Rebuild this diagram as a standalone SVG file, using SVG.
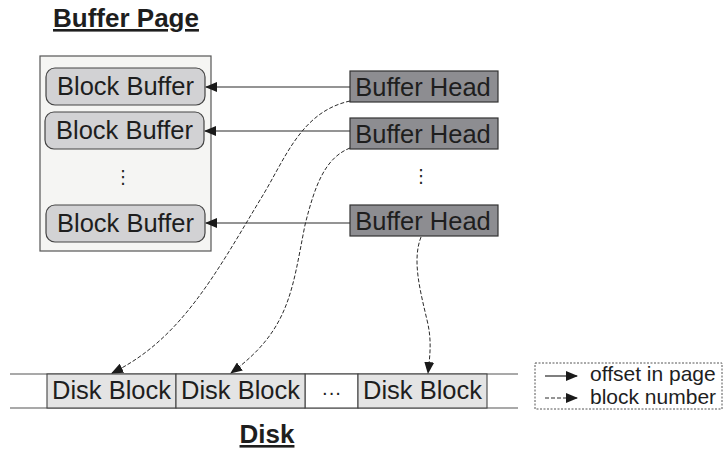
<svg xmlns="http://www.w3.org/2000/svg" width="727" height="452" viewBox="0 0 727 452">
  <style>
    text { font-family: "Liberation Sans", Arial, sans-serif; fill: #1e1e1e; }
    .title { font-size: 26px; font-weight: bold; text-decoration: underline; text-anchor: middle; }
    .lbl { font-size: 25.5px; text-anchor: middle; }
    .leg { font-size: 21px; }
    .page { fill: #f5f5f3; stroke: #555; stroke-width: 1.2; }
    .bb { fill: #d2d2d4; stroke: #444; stroke-width: 1.2; }
    .bh { fill: #8d8d91; stroke: #333; stroke-width: 1.2; }
    .db { fill: #e4e4e4; stroke: #444; stroke-width: 1.1; }
    .solid { fill: none; stroke: #2a2a2a; stroke-width: 1.2; marker-end: url(#ah); }
    .dash { fill: none; stroke: #2a2a2a; stroke-width: 1; stroke-dasharray: 4 2; marker-end: url(#ah); }
    .vdots { font-family: "DejaVu Sans", sans-serif; font-size: 18px; text-anchor: middle; }
  </style>
  <defs>
    <marker id="ah" markerWidth="12" markerHeight="10" refX="11" refY="5" orient="auto" markerUnits="userSpaceOnUse">
      <path d="M0,0 L12,5 L0,10 Z" fill="#1a1a1a"/>
    </marker>
  </defs>

  <rect width="727" height="452" fill="#ffffff"/>

  <!-- buffer page -->
  <g id="buffer-page">
    <text class="title" x="126" y="27">Buffer Page</text>
    <rect class="page" x="40" y="56" width="171" height="195"/>
    <text class="vdots" x="123" y="183">⋮</text>
  </g>
  <g id="block-buffer-1">
    <rect class="bb" x="46" y="68" width="159" height="37" rx="9"/>
    <text class="lbl" x="125.5" y="95">Block Buffer</text>
  </g>
  <g id="block-buffer-2">
    <rect class="bb" x="45" y="112" width="159" height="37" rx="9"/>
    <text class="lbl" x="124.5" y="139">Block Buffer</text>
  </g>
  <g id="block-buffer-3">
    <rect class="bb" x="46" y="205" width="159" height="37" rx="9"/>
    <text class="lbl" x="125.5" y="232">Block Buffer</text>
  </g>

  <!-- buffer heads -->
  <g id="buffer-head-1">
    <rect class="bh" x="350" y="71" width="148" height="31"/>
    <text class="lbl" x="423" y="96">Buffer Head</text>
  </g>
  <g id="buffer-head-2">
    <rect class="bh" x="350" y="118" width="148" height="31"/>
    <text class="lbl" x="423" y="143">Buffer Head</text>
  </g>
  <text class="vdots" x="421" y="182">⋮</text>
  <g id="buffer-head-3">
    <rect class="bh" x="350" y="205" width="148" height="31"/>
    <text class="lbl" x="423" y="230">Buffer Head</text>
  </g>

  <!-- disk -->
  <g id="disk">
    <line x1="10" y1="374" x2="518" y2="374" stroke="#555" stroke-width="1.2"/>
    <line x1="10" y1="408" x2="518" y2="408" stroke="#555" stroke-width="1.2"/>
    <rect x="305" y="374" width="53" height="34" fill="#ffffff" stroke="#444" stroke-width="1.1"/>
    <text class="lbl" x="331.5" y="399" style="font-size:20px">···</text>
    <text class="title" x="267" y="443">Disk</text>
  </g>
  <g id="disk-block-1">
    <rect class="db" x="47" y="374" width="129" height="34"/>
    <text class="lbl" x="111.5" y="399">Disk Block</text>
  </g>
  <g id="disk-block-2">
    <rect class="db" x="176" y="374" width="129" height="34"/>
    <text class="lbl" x="240.5" y="399">Disk Block</text>
  </g>
  <g id="disk-block-3">
    <rect class="db" x="358" y="374" width="129" height="34"/>
    <text class="lbl" x="422.5" y="399">Disk Block</text>
  </g>

  <!-- connectors -->
  <g id="connectors">
    <line class="solid" x1="350" y1="87" x2="206" y2="87"/>
    <line class="solid" x1="350" y1="131" x2="205" y2="131"/>
    <line class="solid" x1="350" y1="223" x2="206" y2="223"/>
    <path class="dash" d="M350,101 C300,112 285,160 260,200 C215,275 180,340 112,373"/>
    <path class="dash" d="M350,148 C325,158 315,185 305,225 C292,290 290,330 231,373"/>
    <path class="dash" d="M421,237 C412,260 420,290 427,320 C432,340 430,355 428,373"/>
  </g>

  <!-- legend -->
  <g id="legend">
    <rect x="535" y="363" width="187" height="46" fill="none" stroke="#555" stroke-width="1" stroke-dasharray="2 1.5"/>
    <line class="solid" x1="545" y1="376" x2="577" y2="376"/>
    <line class="dash" x1="545" y1="398" x2="577" y2="398"/>
    <text class="leg" x="590" y="381">offset in page</text>
    <text class="leg" x="590" y="404">block number</text>
  </g>
</svg>
